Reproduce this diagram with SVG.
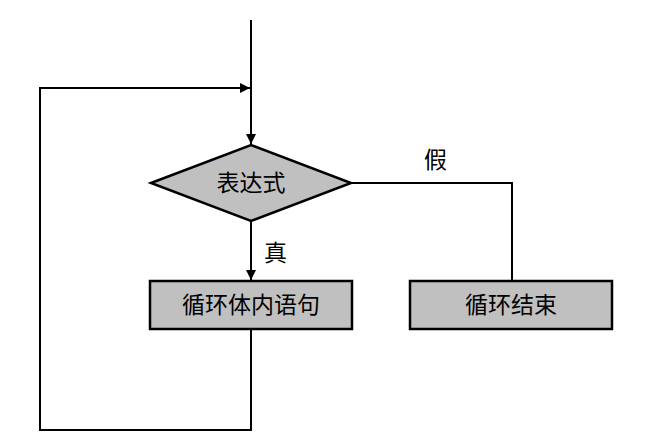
<svg xmlns="http://www.w3.org/2000/svg" width="650" height="448" viewBox="0 0 650 448">
<style>
.n{fill:#c0c0c0;stroke:#000;stroke-width:2.5}
.c{fill:none;stroke:#000;stroke-width:2}
text{font-family:"Liberation Serif","Noto Sans CJK SC",serif;font-size:23px;fill:#000}
.t{text-anchor:middle}
</style>
<defs><marker id="a" markerWidth="10" markerHeight="10" refX="10" refY="5" orient="auto" markerUnits="userSpaceOnUse"><path d="M0,0L10,5L0,10Z" fill="#000"/></marker></defs>
<rect width="650" height="448" fill="#fff"/>
<g id="connectors">
<path class="c" d="M251,20V144" marker-end="url(#a)" transform="scale(1)"/>
<path class="c" d="M251,221V280" marker-end="url(#a)"/>
<path class="c" d="M251,329V430H40V88H250" marker-end="url(#a)"/>
<path class="c" d="M351,183H512V281"/>
</g>
<g id="cond"><polygon class="n" points="151,183 251,145 351,183 251,221"/><text class="t" x="251" y="191">表达式</text></g>
<g id="body"><rect class="n" x="150" y="281" width="202" height="48"/><text class="t" x="251" y="313">循环体内语句</text></g>
<g id="end"><rect class="n" x="410" y="281" width="202" height="48"/><text class="t" x="511" y="313">循环结束</text></g>
<text x="424" y="168">假</text>
<text x="264" y="261">真</text>
</svg>
